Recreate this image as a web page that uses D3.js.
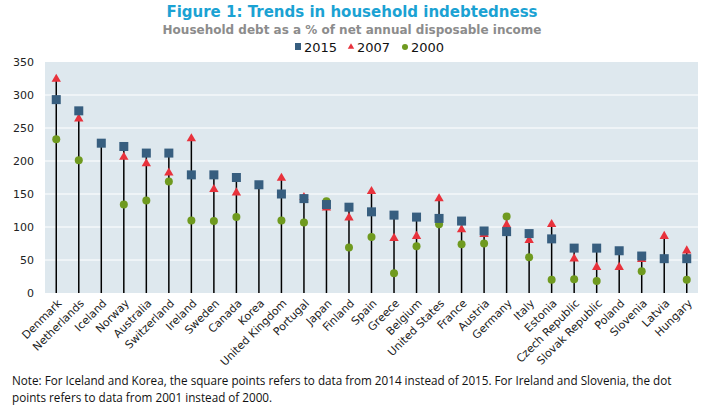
<!DOCTYPE html>
<html>
<head>
<meta charset="utf-8">
<script src="https://cdn.jsdelivr.net/npm/d3@7"></script>
<style>
  body { margin: 0; background: #fff; }
  svg { display: block; }
</style>
</head>
<body>
<svg id="chart" width="706" height="410"></svg>
<script>
const countries = ["Denmark", "Netherlands", "Iceland", "Norway", "Australia", "Switzerland",
    "Ireland", "Sweden", "Canada", "Korea", "United Kingdom", "Portugal", "Japan", "Finland",
    "Spain", "Greece", "Belgium", "United States", "France", "Austria", "Germany", "Italy",
    "Estonia", "Czech Republic", "Slovak Republic", "Poland", "Slovenia", "Latvia", "Hungary"];

const v2015 = [293, 276, 227, 222, 212, 212, 179, 179, 175, 164, 150, 143, 134, 130,
    123, 118, 115, 113, 109, 94, 93, 90, 82, 68, 68, 64, 56, 52, 52];
const v2007 = [324, 264, null, 206, 196, 182, 234, 157, 152, null, 174, 145, 129, 114,
    154, 83, 86, 143, 96, 89, 103, 80, 104, 52, 39, 39, 51, 86, 64];
const v2000 = [233, 201, null, 134, 140, 169, 110, 109, 115, null, 110, 107, 139, 69,
    85, 30, 71, 104, 74, 75, 116, 54, 20, 21, 18, null, 33, null, 20];

const yTicks = [0, 50, 100, 150, 200, 250, 300, 350];

const colors = { s2015: "#375e7f", s2007: "#e8323c", s2000: "#6f9a1f" };

const svg = d3.select("#chart");
const margin = { top: 62, right: 8, bottom: 117, left: 45 };
const width = 706 - margin.left - margin.right;
const height = 410 - margin.top - margin.bottom;

// titles
svg.append("text")
    .attr("x", 352).attr("y", 17)
    .attr("text-anchor", "middle")
    .style("font-family", "DejaVu Sans, Verdana, sans-serif")
    .style("font-size", "15px").style("font-weight", "bold")
    .style("fill", "#1ba2d3")
    .text("Figure 1: Trends in household indebtedness");

svg.append("text")
    .attr("x", 352).attr("y", 34)
    .attr("text-anchor", "middle")
    .style("font-family", "DejaVu Sans, Verdana, sans-serif")
    .style("font-size", "12px").style("font-weight", "bold")
    .style("fill", "#8c8c8c")
    .text("Household debt as a % of net annual disposable income");

const g = svg.append("g").attr("transform", `translate(${margin.left},${margin.top})`);

const x = d3.scaleBand().domain(countries).range([0, width]);
const y = d3.scaleLinear().domain([0, 350]).range([height, 0]);

g.append("rect")
    .attr("width", width).attr("height", height)
    .style("fill", "#dee8ee");

g.selectAll(".grid").data(yTicks.filter(d => d > 0 && d < 350)).enter()
    .append("line")
    .attr("x1", 0).attr("x2", width)
    .attr("y1", d => y(d)).attr("y2", d => y(d))
    .style("stroke", "#fff").style("stroke-width", 1.2);

// y axis labels
const yAxis = g.append("g")
    .call(d3.axisLeft(y).tickValues(yTicks).tickSize(0).tickPadding(11));
yAxis.select(".domain").remove();
yAxis.selectAll("text")
    .style("font-family", "DejaVu Sans, Verdana, sans-serif")
    .style("font-size", "11px").style("fill", "#222");

// x axis labels
const xAxis = g.append("g")
    .attr("transform", `translate(0,${height})`)
    .call(d3.axisBottom(x).tickSize(0).tickPadding(0));
xAxis.select(".domain").remove();
xAxis.selectAll("text")
    .style("font-family", "DejaVu Sans, Verdana, sans-serif")
    .style("font-size", "11px").style("fill", "#222")
    .attr("text-anchor", "end")
    .attr("dy", 0)
    .attr("transform", "translate(6,11) rotate(-45)");

// stems
const cx = d => x(d) + x.bandwidth() / 2;
g.selectAll(".stem").data(countries).enter()
    .append("line")
    .attr("x1", cx).attr("x2", cx)
    .attr("y1", height)
    .attr("y2", (d, i) => y(d3.max([v2015[i], v2007[i], v2000[i]])))
    .style("stroke", "#000").style("stroke-width", 1.5);

// 2000 circles
g.selectAll(".c2000").data(countries.filter((d, i) => v2000[i] != null)).enter()
    .append("circle")
    .attr("cx", cx)
    .attr("cy", d => y(v2000[countries.indexOf(d)]))
    .attr("r", 4)
    .style("fill", colors.s2000);

// 2007 triangles
const tri = d3.symbol().type(d3.symbolTriangle).size(38);
g.selectAll(".t2007").data(countries.filter((d, i) => v2007[i] != null)).enter()
    .append("path")
    .attr("d", tri)
    .attr("transform", d => `translate(${cx(d)},${y(v2007[countries.indexOf(d)])})`)
    .style("fill", colors.s2007);

// 2015 squares
g.selectAll(".s2015").data(countries).enter()
    .append("rect")
    .attr("x", d => cx(d) - 4.5)
    .attr("y", (d, i) => y(v2015[i]) - 4.5)
    .attr("width", 9).attr("height", 9)
    .style("fill", colors.s2015);

// legend
const legend = svg.append("g").attr("transform", "translate(0,47)");
const items = [
    { label: "2015", type: "square", color: colors.s2015, x: 298 },
    { label: "2007", type: "triangle", color: colors.s2007, x: 351 },
    { label: "2000", type: "circle", color: colors.s2000, x: 405 }
];
items.forEach(it => {
    if (it.type === "square") {
        legend.append("rect").attr("x", it.x - 3).attr("y", -4).attr("width", 6).attr("height", 7)
            .style("fill", it.color);
    } else if (it.type === "triangle") {
        legend.append("path").attr("d", d3.symbol().type(d3.symbolTriangle).size(18))
            .attr("transform", `translate(${it.x},0)`).style("fill", it.color);
    } else {
        legend.append("circle").attr("cx", it.x).attr("cy", 0).attr("r", 3).style("fill", it.color);
    }
    legend.append("text")
        .attr("x", it.x + 6).attr("y", 5)
        .style("font-family", "DejaVu Sans, Verdana, sans-serif")
        .style("font-size", "13px").style("fill", "#111")
        .text(it.label);
});

// note
const noteLines = [
    "Note:  For Iceland and Korea, the square points refers to data from 2014 instead of 2015. For Ireland and Slovenia, the dot",
    "points refers to data from 2001 instead of 2000."
];
svg.selectAll(".note").data(noteLines).enter()
    .append("text")
    .attr("x", 12)
    .attr("y", (d, i) => 385 + i * 17)
    .style("font-family", "Open Sans, sans-serif")
    .style("font-size", "11.7px").style("fill", "#111")
    .text(d => d);
</script>
</body>
</html>
